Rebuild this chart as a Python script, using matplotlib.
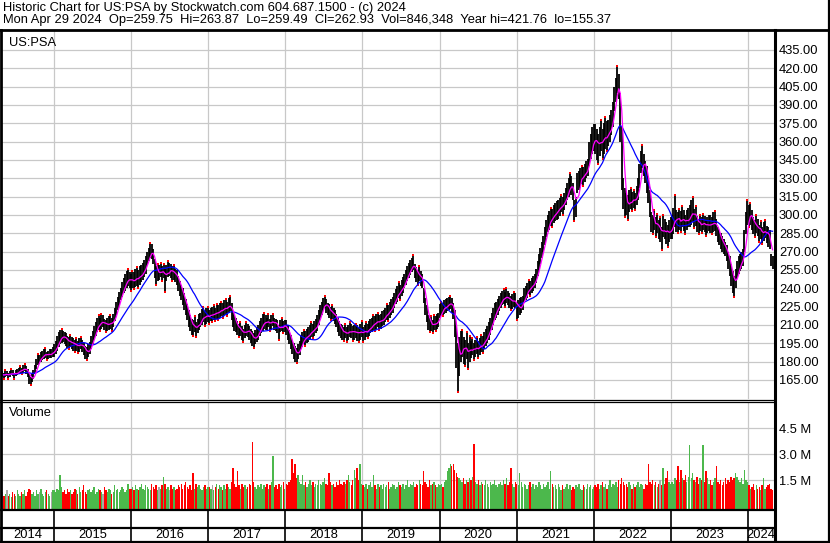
import numpy as np
import pandas as pd
import matplotlib
matplotlib.use("Agg")
import matplotlib.pyplot as plt
from matplotlib.lines import Line2D

plt.rcParams['font.family'] = ['Liberation Sans', 'DejaVu Sans']

# weekly lows / highs (USD), one list per calendar year
lo_2014 = [167, 166, 167, 168, 166, 167, 169, 168, 166, 168, 169, 170, 171, 170, 171, 172, 170, 167, 162, 161,
           163, 166, 170, 174, 177, 178, 180, 181, 182, 183, 181, 182, 183, 183, 184]
hi_2014 = [172, 171, 173, 172, 171, 172, 174, 173, 171, 173, 174, 175, 176, 175, 177, 178, 176, 174, 170, 167,
           170, 173, 177, 182, 186, 185, 188, 189, 190, 191, 188, 189, 190, 190, 192]
lo_2015 = [184, 186, 189, 192, 194, 195, 196, 194, 193, 191, 190, 192, 190, 189, 188, 189, 187, 188, 190, 188,
           185, 182, 181, 184, 186, 190, 194, 198, 201, 204, 206, 205, 207, 208, 206, 204, 205, 206, 207, 205,
           208, 213, 218, 222, 226, 230, 233, 236, 238, 240, 242, 240]
hi_2015 = [194, 197, 201, 204, 206, 207, 205, 204, 203, 201, 200, 202, 200, 199, 198, 199, 197, 199, 200, 198,
           195, 193, 192, 194, 196, 201, 205, 209, 212, 216, 218, 216, 219, 218, 215, 214, 216, 217, 218, 216,
           219, 224, 229, 233, 237, 240, 245, 248, 252, 254, 256, 253]
lo_2016 = [238, 240, 239, 241, 242, 240, 243, 245, 247, 249, 252, 259, 262, 265, 264, 260, 248, 243, 246, 247,
           249, 246, 248, 237, 246, 249, 250, 248, 246, 247, 245, 243, 238, 234, 230, 226, 222, 218, 214, 208,
           205, 202, 201, 204, 200, 203, 206, 208, 210, 212, 209, 211, 212]
hi_2016 = [252, 254, 253, 256, 257, 255, 258, 259, 261, 263, 266, 270, 273, 277, 276, 272, 264, 258, 260, 259,
           261, 258, 260, 256, 259, 262, 261, 260, 258, 259, 256, 255, 250, 246, 243, 240, 236, 231, 227, 222,
           218, 215, 214, 217, 212, 215, 219, 220, 223, 225, 221, 224, 225]
lo_2017 = [211, 213, 212, 214, 213, 215, 214, 216, 217, 216, 218, 219, 217, 220, 221, 214, 208, 205, 204, 202,
           200, 201, 198, 196, 199, 201, 200, 198, 195, 193, 191, 194, 196, 198, 201, 203, 205, 207, 206, 206,
           208, 205, 207, 209, 206, 205, 203, 198, 204, 205, 203, 204]
hi_2017 = [222, 224, 225, 226, 224, 227, 226, 228, 229, 228, 230, 231, 229, 232, 234, 228, 221, 218, 216, 213,
           211, 212, 209, 207, 210, 212, 211, 209, 207, 205, 203, 206, 208, 210, 213, 216, 219, 220, 218, 216,
           219, 215, 218, 219, 216, 215, 214, 210, 214, 216, 213, 214]
lo_2018 = [202, 198, 194, 190, 186, 182, 180, 179, 182, 185, 190, 192, 194, 193, 195, 196, 198, 200, 199, 201,
           203, 205, 210, 214, 218, 222, 224, 220, 218, 216, 214, 215, 213, 211, 208, 204, 201, 199, 198, 197,
           199, 196, 198, 200, 199, 197, 198, 199, 197, 196, 198, 200]
hi_2018 = [214, 210, 206, 202, 198, 195, 193, 191, 194, 197, 202, 204, 206, 205, 207, 208, 210, 212, 211, 213,
           215, 218, 222, 226, 229, 232, 234, 231, 228, 227, 225, 226, 224, 222, 219, 216, 213, 211, 210, 208,
           211, 208, 210, 212, 211, 209, 210, 211, 210, 208, 211, 213]
lo_2019 = [196, 198, 200, 199, 201, 203, 204, 206, 205, 207, 208, 206, 207, 209, 210, 212, 214, 213, 216, 218,
           220, 224, 227, 229, 232, 230, 234, 236, 240, 243, 246, 248, 251, 253, 255, 248, 245, 243, 246, 242,
           240, 228, 218, 212, 206, 204, 205, 203, 206, 205, 207, 208]
hi_2019 = [208, 210, 212, 211, 213, 215, 216, 218, 217, 219, 220, 218, 219, 221, 222, 224, 227, 226, 229, 231,
           233, 236, 239, 242, 245, 243, 247, 249, 252, 255, 258, 261, 263, 265, 267, 260, 257, 255, 258, 254,
           252, 240, 232, 226, 218, 216, 217, 214, 218, 217, 219, 220]
lo_2020 = [216, 218, 217, 219, 220, 221, 222, 223, 220, 215, 200, 175, 155, 168, 180, 184, 178, 176, 182, 174,
           180, 183, 185, 181, 184, 186, 183, 185, 188, 187, 190, 193, 195, 198, 202, 206, 210, 214, 216, 218,
           221, 224, 226, 227, 225, 228, 226, 224, 222, 223, 225, 224]
hi_2020 = [227, 229, 228, 230, 231, 232, 233, 234, 232, 228, 222, 210, 195, 200, 205, 206, 200, 198, 204, 195,
           201, 197, 199, 195, 198, 200, 197, 199, 202, 201, 204, 207, 209, 212, 216, 220, 224, 228, 229, 231,
           234, 236, 238, 239, 237, 240, 238, 236, 234, 235, 237, 236]
lo_2021 = [214, 216, 218, 220, 222, 228, 230, 232, 235, 234, 236, 238, 240, 244, 250, 255, 260, 265, 270, 275,
           282, 286, 288, 291, 290, 293, 295, 296, 297, 299, 302, 300, 304, 308, 312, 315, 318, 316, 312, 295,
           298, 318, 320, 322, 325, 324, 327, 330, 332, 340, 346, 350, 352]
hi_2021 = [228, 230, 232, 233, 234, 240, 242, 244, 247, 246, 248, 250, 252, 256, 262, 268, 273, 278, 283, 290,
           296, 300, 303, 306, 305, 308, 310, 311, 312, 314, 316, 315, 318, 322, 326, 330, 334, 332, 326, 312,
           315, 334, 336, 338, 340, 339, 342, 344, 346, 360, 366, 372, 374]
lo_2022 = [350, 345, 342, 348, 352, 346, 350, 354, 352, 356, 360, 365, 372, 385, 392, 400, 395, 360, 320, 305,
           298, 300, 296, 302, 305, 303, 306, 304, 308, 312, 322, 334, 338, 332, 326, 318, 310, 298, 286, 284,
           288, 282, 285, 280, 278, 271, 282, 280, 276, 274, 278, 280]
hi_2022 = [374, 370, 366, 372, 378, 370, 375, 380, 377, 378, 382, 386, 392, 405, 412, 422, 415, 400, 372, 330,
           322, 318, 316, 320, 322, 319, 320, 318, 324, 330, 342, 352, 357, 350, 344, 340, 332, 320, 302, 300,
           304, 298, 301, 296, 298, 290, 300, 297, 294, 292, 296, 298]
lo_2023 = [280, 284, 290, 286, 285, 288, 286, 290, 287, 284, 288, 290, 290, 292, 294, 289, 291, 286, 284, 287,
           285, 288, 286, 283, 285, 287, 285, 284, 286, 287, 283, 278, 275, 272, 270, 268, 266, 262, 256, 250,
           242, 236, 233, 240, 248, 252, 254, 256, 258, 270, 284, 292]
hi_2023 = [300, 306, 316, 304, 302, 305, 303, 307, 304, 300, 304, 306, 308, 312, 315, 305, 307, 299, 297, 300,
           298, 301, 299, 296, 298, 300, 300, 298, 302, 303, 297, 290, 288, 285, 283, 280, 278, 275, 270, 266,
           260, 254, 250, 256, 262, 266, 268, 270, 272, 288, 302, 312]
lo_2024 = [290, 292, 288, 284, 282, 285, 283, 278, 280, 276, 279, 281, 277, 274, 272, 258, 256]
hi_2024 = [308, 310, 304, 298, 296, 300, 297, 292, 295, 290, 294, 296, 291, 290, 288, 268, 266]

# weekly volume, millions of shares
vol_2014 = [0.8, 0.6, 0.7, 0.9, 0.6, 0.7, 0.5, 0.8, 0.7, 0.6, 0.9, 0.7, 0.6, 0.8, 0.7, 0.9, 0.6, 0.8, 1.0, 0.9,
            0.7, 0.8, 0.6, 0.9, 0.7, 0.8, 1.0, 0.7, 0.6, 0.8, 0.9, 0.7, 0.6, 0.8, 0.9]
vol_2015 = [0.9, 0.8, 1.0, 0.9, 1.8, 1.1, 0.8, 0.9, 0.7, 1.0, 0.8, 0.9, 0.7, 0.8, 1.0, 0.9, 0.7, 1.1, 0.8, 0.9,
            1.2, 0.8, 0.7, 0.9, 1.0, 0.8, 0.9, 1.1, 0.7, 0.8, 1.0, 0.9, 0.8, 0.7, 1.1, 0.9, 0.8, 1.0, 0.9, 0.7,
            0.8, 1.2, 0.9, 1.0, 0.8, 0.9, 1.1, 1.0, 0.8, 0.9, 1.3, 1.0]
vol_2016 = [1.0, 1.1, 0.9, 1.2, 1.0, 0.9, 1.1, 1.3, 1.0, 0.9, 1.2, 1.1, 1.0, 0.9, 1.3, 1.1, 1.0, 1.2, 0.9, 1.1,
            1.0, 1.2, 1.7, 1.3, 1.0, 1.1, 0.9, 1.2, 1.0, 1.1, 0.9, 1.0, 1.2, 1.1, 1.3, 1.0, 1.2, 1.4, 1.1, 1.0,
            1.2, 0.9, 1.9, 1.0, 1.3, 1.1, 1.2, 1.0, 0.9, 1.1, 1.2, 1.0, 1.1]
vol_2017 = [1.1, 1.0, 1.2, 0.9, 1.1, 1.3, 1.0, 1.2, 1.1, 0.9, 1.2, 1.0, 1.3, 1.1, 1.0, 1.4, 2.2, 1.3, 1.1, 2.0,
            1.2, 1.0, 1.3, 1.1, 1.2, 1.0, 1.1, 1.3, 1.2, 3.7, 1.4, 1.1, 1.0, 1.2, 1.1, 1.3, 1.0, 1.2, 1.1, 1.3,
            1.0, 1.2, 1.4, 2.9, 1.1, 1.2, 1.0, 1.3, 1.1, 1.2, 1.4, 1.0]
vol_2018 = [1.3, 1.2, 1.4, 1.5, 2.7, 1.9, 2.4, 1.6, 1.8, 1.4, 1.3, 1.8, 1.2, 1.4, 1.1, 1.3, 1.5, 1.2, 1.4, 1.1,
            1.3, 1.2, 1.5, 1.3, 1.2, 1.4, 1.6, 1.3, 1.2, 1.9, 1.4, 1.2, 1.3, 1.1, 1.4, 1.2, 1.5, 1.3, 1.2, 1.4,
            1.3, 1.5, 1.8, 1.4, 1.2, 1.5, 2.1, 1.6, 2.2, 1.5, 2.4, 1.3]
vol_2019 = [1.2, 1.1, 1.3, 1.0, 1.2, 1.4, 1.1, 1.8, 1.2, 1.0, 1.3, 1.1, 1.2, 1.0, 1.3, 1.1, 1.2, 1.4, 1.0, 1.1,
            1.3, 1.2, 1.0, 1.1, 1.4, 1.2, 1.1, 1.3, 1.0, 1.2, 1.5, 1.1, 1.3, 1.2, 1.4, 1.1, 1.3, 1.2, 1.5, 1.3,
            1.2, 2.0, 1.4, 1.3, 1.1, 1.5, 1.2, 1.3, 1.4, 1.2, 1.1, 1.3]
vol_2020 = [1.2, 1.3, 1.1, 1.4, 1.5, 2.0, 2.2, 2.4, 2.3, 2.4, 2.1, 1.9, 1.7, 1.6, 1.5, 1.4, 1.6, 1.3, 1.5, 1.4,
            1.6, 1.5, 1.7, 3.6, 1.4, 1.3, 1.5, 1.2, 1.4, 1.3, 1.2, 1.5, 1.3, 1.1, 1.4, 1.2, 1.3, 1.5, 1.2, 1.1,
            1.3, 1.4, 1.2, 1.5, 1.3, 1.6, 1.2, 1.4, 2.2, 1.3, 1.1, 1.4]
vol_2021 = [1.3, 1.2, 1.9, 1.4, 1.1, 1.3, 1.2, 1.0, 1.2, 1.4, 1.1, 1.3, 1.0, 1.2, 1.1, 1.4, 1.2, 1.0, 1.3, 1.1,
            1.2, 1.4, 1.0, 2.0, 1.3, 1.1, 1.2, 1.0, 1.3, 1.1, 0.9, 1.2, 1.0, 1.1, 1.3, 1.0, 1.2, 0.9, 1.1, 1.0,
            1.2, 1.1, 1.3, 1.0, 0.9, 1.2, 1.1, 1.0, 1.3, 1.1, 1.2, 1.0, 1.1]
vol_2022 = [1.2, 1.1, 1.3, 1.0, 1.2, 1.4, 1.1, 1.3, 1.0, 1.2, 1.5, 1.1, 1.3, 1.2, 1.4, 1.1, 1.5, 1.3, 1.6, 1.4,
            1.2, 1.3, 1.1, 1.4, 1.2, 1.0, 1.3, 1.1, 1.2, 1.4, 1.1, 1.3, 1.2, 1.0, 1.3, 1.2, 2.4, 1.4, 1.3, 1.5,
            1.2, 1.4, 1.1, 1.3, 1.5, 1.2, 2.2, 1.3, 1.6, 2.0, 1.4, 1.3]
vol_2023 = [1.4, 1.3, 1.6, 1.5, 2.3, 1.4, 2.1, 1.6, 1.5, 1.8, 1.4, 1.7, 3.5, 1.6, 1.9, 1.5, 1.4, 1.7, 1.3, 1.6,
            1.5, 3.5, 1.4, 2.0, 1.6, 1.3, 1.5, 1.2, 1.4, 1.6, 2.3, 1.4, 1.3, 1.5, 1.2, 1.4, 1.6, 1.3, 1.5, 1.4,
            1.7, 1.5, 1.6, 1.9, 1.7, 1.5, 1.4, 1.6, 1.3, 2.1, 1.5, 1.4]
vol_2024 = [1.2, 1.0, 1.1, 1.3, 0.9, 1.2, 1.0, 1.1, 0.9, 1.2, 1.6, 1.0, 1.1, 1.2, 1.3, 1.0, 0.9]

years = list(range(2015, 2025))
price_ticks = np.arange(165, 436, 15)
vol_ticks = [1.5, 3.0, 4.5]
line1 = "Historic Chart for US:PSA by Stockwatch.com 604.687.1500 - (c) 2024"
line2 = ("Mon Apr 29 2024  Op=259.75  Hi=263.87  Lo=259.49  Cl=262.93  "
         "Vol=846,348  Year hi=421.76  lo=155.37")

lo = np.array(lo_2014 + lo_2015 + lo_2016 + lo_2017 + lo_2018 + lo_2019 + lo_2020 + lo_2021 + lo_2022
              + lo_2023 + lo_2024, dtype=float)
hi = np.array(hi_2014 + hi_2015 + hi_2016 + hi_2017 + hi_2018 + hi_2019 + hi_2020 + hi_2021 + hi_2022
              + hi_2023 + hi_2024, dtype=float)
vol = np.array(vol_2014 + vol_2015 + vol_2016 + vol_2017 + vol_2018 + vol_2019 + vol_2020 + vol_2021
               + vol_2022 + vol_2023 + vol_2024)
dates = pd.date_range("2014-05-02", periods=len(lo), freq="W-FRI")

mid = pd.Series((lo + hi) / 2, index=dates)
ma_short = mid.rolling(4, min_periods=1).mean()
ma_long = mid.rolling(20, min_periods=1).mean()

W, H = 830, 543
FS = 9.3


def fx(px):
    return px / W


def fy(py):
    return 1 - py / H


fig = plt.figure(figsize=(W / 100, H / 100), dpi=100)
fig.patch.set_facecolor("white")

xmin, xmax = pd.Timestamp("2014-04-30"), pd.Timestamp("2024-05-03")
year_lines = [pd.Timestamp(f"{y}-01-01") for y in years]
grid_c = "#c8c8c8"
axw = fx(774) - fx(2)

# price panel
ax = fig.add_axes([fx(2), fy(399), axw, fy(31) - fy(399)])
ax.set_xlim(xmin, xmax)
ax.set_ylim(149.4, 450.5)
ax.set_axisbelow(True)
ax.set_yticks(price_ticks)
ax.set_yticklabels([f"{v:.2f}" for v in price_ticks])
ax.yaxis.tick_right()
ax.set_xticks(year_lines)
ax.set_xticklabels([])
ax.tick_params(length=0, pad=3.5, labelsize=FS)
ax.grid(True, color=grid_c, lw=0.9)
for s in ax.spines.values():
    s.set_visible(False)

ax.vlines(dates, lo, hi, color="black", lw=1.3)
# red specks at local spikes
up_peak = np.r_[False, (hi[1:-1] > hi[:-2]) & (hi[1:-1] > hi[2:]), False]
dn_peak = np.r_[False, (lo[1:-1] < lo[:-2]) & (lo[1:-1] < lo[2:]), False]
ax.plot(dates[up_peak], hi[up_peak], "s", color="red", ms=1.5, mew=0)
ax.plot(dates[dn_peak], lo[dn_peak], "s", color="red", ms=1.5, mew=0)
ax.plot(dates, ma_long.values, color="#0000ff", lw=0.9)
ax.plot(dates, ma_short.values, color="#ff00ff", lw=0.9)
ax.text(fx(7) / axw, 0.967, "US:PSA", transform=ax.transAxes, fontsize=FS, va="center")

# volume panel
axv = fig.add_axes([fx(2), fy(509), axw, fy(402) - fy(509)])
axv.set_xlim(xmin, xmax)
vbot = -0.17
axv.set_ylim(vbot, 6.0)
axv.set_axisbelow(True)
axv.set_yticks(vol_ticks)
axv.set_yticklabels([f"{v:.1f} M" for v in vol_ticks])
axv.yaxis.tick_right()
axv.set_xticks(year_lines)
axv.set_xticklabels([])
axv.tick_params(length=0, pad=3.5, labelsize=FS)
axv.grid(True, color=grid_c, lw=0.9)
for s in axv.spines.values():
    s.set_visible(False)
chg = np.r_[0, np.diff(mid.values)]
vcol = np.where(chg > 0, "#4cb84c", np.where(chg < 0, "#ff0000", "#a8a8a8"))
axv.bar(dates, vol - vbot, bottom=vbot, width=6.5, color=vcol, linewidth=0)
axv.text(fx(7) / axw, 0.9, "Volume", transform=axv.transAxes, fontsize=FS, va="center")

# date strip
axd = fig.add_axes([fx(2), fy(542), axw, fy(510) - fy(542)])
axd.set_xlim(xmin, xmax)
axd.set_ylim(0, 1)
axd.axis("off")
axd.vlines(year_lines, 0, 1, color="black", lw=1.2)
edges = [xmin] + year_lines + [xmax]
for i, y in enumerate(range(2014, 2025)):
    c = edges[i] + (edges[i + 1] - edges[i]) / 2
    axd.text(c, 0.22, str(y), ha="center", va="center", fontsize=FS)


# frame lines (figure pixels)
def hline(y, x0, x1, lw):
    fig.add_artist(Line2D([fx(x0), fx(x1)], [fy(y), fy(y)], color="black", lw=lw))


def vline(x, y0, y1, lw):
    fig.add_artist(Line2D([fx(x), fx(x)], [fy(y0), fy(y1)], color="black", lw=lw))


hline(30, 0, 830, 2.0)
hline(399.5, 0, 774, 0.9)
hline(402, 0, 774, 0.9)
hline(509.5, 0, 774, 1.6)
hline(527.5, 0, 774, 1.6)
hline(542, 0, 830, 1.6)
vline(1, 30, 543, 2.0)
vline(774.5, 30, 542, 2.2)
vline(829, 0, 543, 1.6)

fig.text(fx(3), fy(8), line1, fontsize=FS, va="center")
fig.text(fx(3), fy(20), line2, fontsize=FS, va="center")

fig.savefig("out.png", dpi=100)
